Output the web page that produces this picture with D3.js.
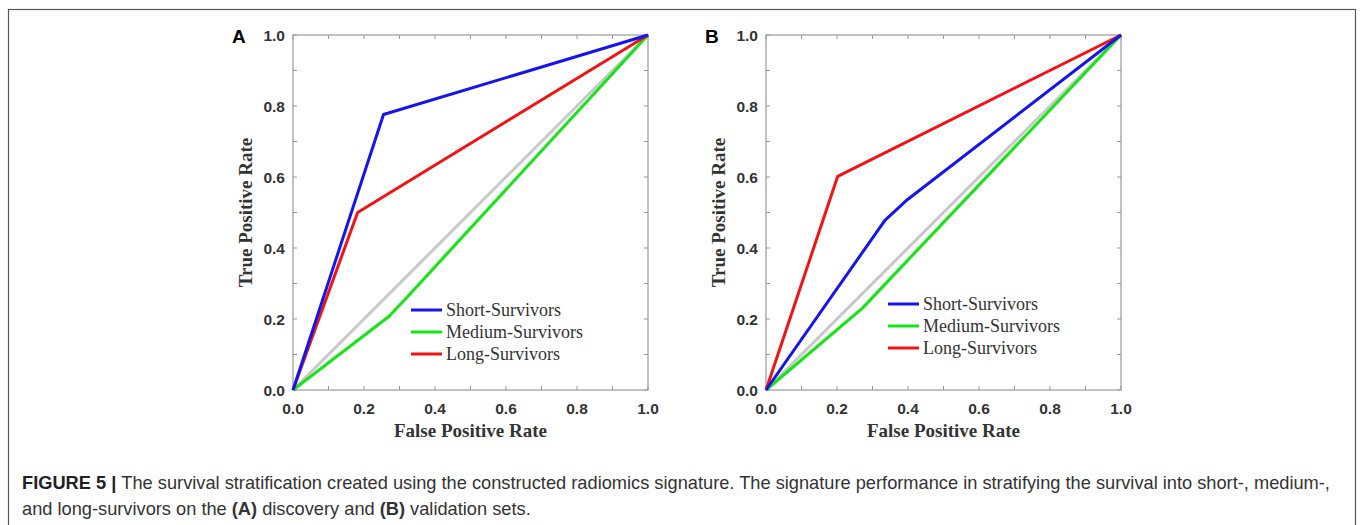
<!DOCTYPE html>
<html>
<head>
<meta charset="utf-8">
<script src="https://cdn.jsdelivr.net/npm/d3@7"></script>
<style>
  body { margin: 0; background: #fff; }
  svg { display: block; }
</style>
</head>
<body>
<script>
// ROC points, [FPR, TPR]
var seriesNames = ["Short-Survivors", "Medium-Survivors", "Long-Survivors"];
var seriesColors = ["#1414f0", "#14e614", "#f01414"];
var chanceLine = [[0, 0], [1, 1]];

var shortA  = [[0, 0], [0.255, 0.776], [1, 1]];
var mediumA = [[0, 0], [0.27, 0.207], [0.32, 0.26], [1, 1]];
var longA   = [[0, 0], [0.182, 0.5], [1, 1]];

var shortB  = [[0, 0], [0.335, 0.478], [0.398, 0.536], [1, 1]];
var mediumB = [[0, 0], [0.271, 0.23], [1, 1]];
var longB   = [[0, 0], [0.202, 0.602], [1, 1]];

var tickValues = [0, 0.2, 0.4, 0.6, 0.8, 1.0];
var minorTicks = d3.range(0, 1.0001, 0.1);

var svg = d3.select("body").append("svg")
    .attr("width", 1360)
    .attr("height", 525);

// outer frame
svg.append("rect")
    .attr("x", 8.5).attr("y", 9.5)
    .attr("width", 1347).attr("height", 530)
    .attr("fill", "none").attr("stroke", "#555").attr("stroke-width", 1.2);

function drawPanel(left, label, curves, legendTop, legendLeft) {
    var size = 355, top = 35;
    var x = d3.scaleLinear().domain([0, 1]).range([left, left + size]);
    var y = d3.scaleLinear().domain([0, 1]).range([top + size, top]);
    var g = svg.append("g");

    // box + inward minor ticks on all sides
    g.append("rect")
        .attr("x", x(0)).attr("y", y(1))
        .attr("width", size).attr("height", size)
        .attr("fill", "none").attr("stroke", "#999").attr("stroke-width", 1.2);
    var tk = g.append("g").attr("stroke", "#999").attr("stroke-width", 1);
    minorTicks.forEach(function(t){
        tk.append("line").attr("x1", x(t)).attr("x2", x(t)).attr("y1", y(0)).attr("y2", y(0) - 4);
        tk.append("line").attr("x1", x(t)).attr("x2", x(t)).attr("y1", y(1)).attr("y2", y(1) + 4);
        tk.append("line").attr("y1", y(t)).attr("y2", y(t)).attr("x1", x(0)).attr("x2", x(0) + 4);
        tk.append("line").attr("y1", y(t)).attr("y2", y(t)).attr("x1", x(1)).attr("x2", x(1) - 4);
    });

    // tick labels
    g.selectAll(".xl").data(tickValues).enter().append("text")
        .attr("x", function(d){ return x(d); })
        .attr("y", y(0) + 24)
        .attr("text-anchor", "middle")
        .style("font", "bold 15.5px 'Liberation Sans', Arial, sans-serif")
        .attr("fill", "#333")
        .text(function(d){ return d.toFixed(1); });
    g.selectAll(".yl").data(tickValues).enter().append("text")
        .attr("x", x(0) - 8)
        .attr("y", function(d){ return y(d) + 6; })
        .attr("text-anchor", "end")
        .style("font", "bold 15.5px 'Liberation Sans', Arial, sans-serif")
        .attr("fill", "#333")
        .text(function(d){ return d.toFixed(1); });

    // axis titles
    g.append("text")
        .attr("x", x(0.5)).attr("y", y(0) + 47)
        .attr("text-anchor", "middle")
        .style("font", "bold 19px 'Liberation Serif', 'Times New Roman', serif")
        .attr("fill", "#333")
        .text("False Positive Rate");
    g.append("text")
        .attr("transform", "translate(" + (x(0) - 41) + "," + y(0.5) + ") rotate(-90)")
        .attr("text-anchor", "middle")
        .style("font", "bold 19px 'Liberation Serif', 'Times New Roman', serif")
        .attr("fill", "#333")
        .text("True Positive Rate");

    // panel letter
    g.append("text")
        .attr("x", x(0) - 61).attr("y", y(1) + 8)
        .style("font", "bold 19px 'Liberation Sans', Arial, sans-serif")
        .attr("fill", "#000")
        .text(label);

    var line = d3.line().x(function(d){ return x(d[0]); }).y(function(d){ return y(d[1]); });

    g.append("path").datum(chanceLine)
        .attr("d", line).attr("fill", "none")
        .attr("stroke", "#c8c8c8").attr("stroke-width", 3);

    // draw order: medium, long, short (matching overlaps)
    [1, 2, 0].forEach(function(i){
        g.append("path").datum(curves[i])
            .attr("d", line).attr("fill", "none")
            .attr("stroke", seriesColors[i]).attr("stroke-width", 3)
            .attr("stroke-linejoin", "round");
    });

    // legend
    var lg = g.append("g");
    seriesNames.forEach(function(name, i){
        var ly = legendTop + i * 22;
        lg.append("line")
            .attr("x1", legendLeft).attr("x2", legendLeft + 31)
            .attr("y1", ly).attr("y2", ly)
            .attr("stroke", seriesColors[i]).attr("stroke-width", 3);
        lg.append("text")
            .attr("x", legendLeft + 35).attr("y", ly + 6)
            .style("font", "18px 'Liberation Serif', 'Times New Roman', serif")
            .attr("fill", "#333")
            .text(name);
    });
}

drawPanel(293, "A", [shortA, mediumA, longA], 310, 411);
drawPanel(766, "B", [shortB, mediumB, longB], 304, 888);

// caption, fitted horizontally so line one spans the same width as the original
var cap = svg.append("g").style("font", "18px 'Liberation Sans', Arial, sans-serif").attr("fill", "#333");
var l1 = cap.append("text").attr("x", 0).attr("y", 489);
l1.append("tspan").attr("font-weight", "bold").attr("fill", "#222").text("FIGURE 5 | ");
l1.append("tspan").text("The survival stratification created using the constructed radiomics signature. The signature performance in stratifying the survival into short-, medium-,");
var l2 = cap.append("text").attr("x", 0).attr("y", 515);
l2.append("tspan").text("and long-survivors on the ");
l2.append("tspan").attr("font-weight", "bold").text("(A)");
l2.append("tspan").text(" discovery and ");
l2.append("tspan").attr("font-weight", "bold").text("(B)");
l2.append("tspan").text(" validation sets.");
var k = 1309 / l1.node().getComputedTextLength();
cap.attr("transform", "translate(22,0) scale(" + k + ",1)");
</script>
</body>
</html>
